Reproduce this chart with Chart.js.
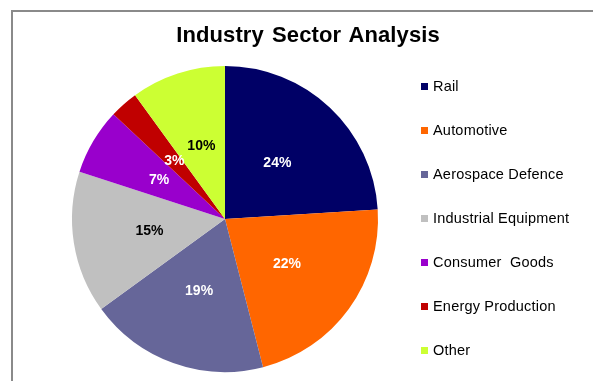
<!DOCTYPE html>
<html>
<head>
<meta charset="utf-8">
<script src="https://cdn.jsdelivr.net/npm/chart.js@4"></script>
<style>
  html, body { margin: 0; padding: 0; background: #fff; overflow: hidden; }
  body { font-family: "Liberation Sans", Arial, sans-serif; }
  #frame { position: absolute; left: 11px; top: 10px; width: 700px; height: 500px;
           border-top: 2px solid #8a8a8a; border-left: 2px solid #8a8a8a; }
  #sector-chart { position: absolute; left: 0; top: 0; }
  #title { position: absolute; left: 0; top: 22px; width: 616px; line-height: 26px;
           text-align: center; font-size: 22px; font-weight: bold; color: #000;
           letter-spacing: 0.1px; word-spacing: 2px; }
  #legend { position: absolute; left: 421px; top: 0; margin: 0; padding: 0; list-style: none; }
  #legend li { position: absolute; left: 0; white-space: pre; font-size: 14.5px;
               line-height: 16px; color: #000; letter-spacing: 0.2px; }
  #legend li span { display: inline-block; width: 7px; height: 7px; margin-right: 5px;
                    vertical-align: 1px; }
</style>
</head>
<body>
<div id="frame"></div>
<canvas id="sector-chart" width="593" height="381"></canvas>
<div id="title">Industry Sector Analysis</div>
<ul id="legend"></ul>
<script>
var sectors = ['Rail', 'Automotive', 'Aerospace Defence', 'Industrial Equipment', 'Consumer  Goods', 'Energy Production', 'Other'];
var shares = [24, 22, 19, 15, 7, 3, 10];
var sliceColors = ['#000066', '#FF6600', '#666699', '#C0C0C0', '#9900CC', '#C00000', '#CCFF33'];
var labelColors = ['#ffffff', '#ffffff', '#ffffff', '#000000', '#ffffff', '#ffffff', '#000000'];

var fontFamily = '"Liberation Sans", Arial, sans-serif';

// draws the percentage inside each slice
var pctLabels = {
    id: 'pctLabels',
    afterDatasetsDraw: function(chart) {
        var ctx = chart.ctx;
        var meta = chart.getDatasetMeta(0);
        ctx.save();
        ctx.font = 'bold 14px ' + fontFamily;
        ctx.textAlign = 'center';
        ctx.textBaseline = 'middle';
        meta.data.forEach(function(arc, i) {
            var p = arc.getCenterPoint();
            ctx.fillStyle = labelColors[i];
            ctx.fillText(shares[i] + '%', p.x, p.y);
        });
        ctx.restore();
    }
};

window.onload = function() {
    var ctx = document.getElementById('sector-chart').getContext('2d');
    var chart = new Chart(ctx, {
        type: 'pie',
        data: {
            labels: sectors,
            datasets: [{
                data: shares,
                backgroundColor: sliceColors,
                borderWidth: 0,
                hoverOffset: 0
            }]
        },
        options: {
            responsive: false,
            animation: false,
            layout: {
                padding: { left: 72, top: 66, right: 215, bottom: 9 }
            },
            plugins: {
                legend: { display: false },
                tooltip: { enabled: false }
            }
        },
        plugins: [pctLabels]
    });

    // legend built from the chart's own label items
    var ul = document.getElementById('legend');
    var items = chart.options.plugins.legend.labels.generateLabels(chart);
    items.forEach(function(item, i) {
        var li = document.createElement('li');
        li.style.top = (78 + i * 44) + 'px';
        var box = document.createElement('span');
        box.style.background = item.fillStyle;
        li.appendChild(box);
        li.appendChild(document.createTextNode(item.text));
        ul.appendChild(li);
    });
};
</script>
</body>
</html>
